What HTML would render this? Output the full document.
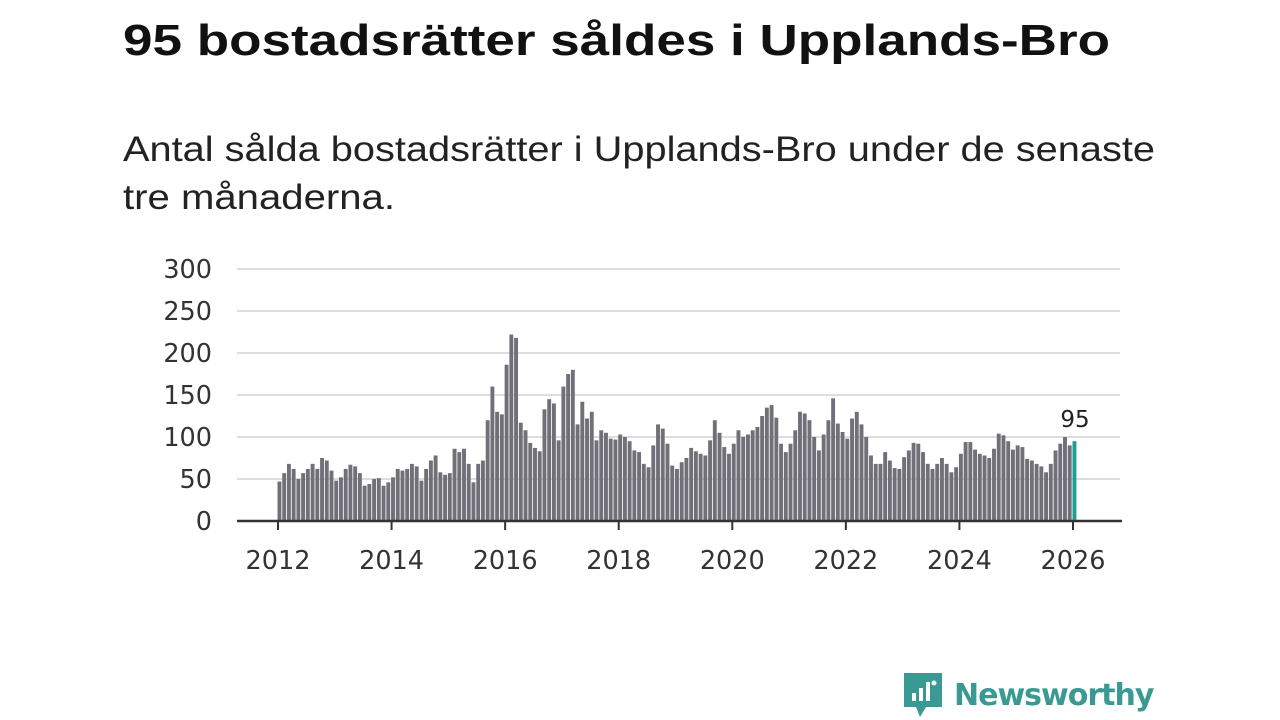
<!DOCTYPE html>
<html><head><meta charset="utf-8"><style>
body{margin:0;background:#fff;width:1280px;height:720px;overflow:hidden;font-family:"Liberation Sans",sans-serif}
#logo{position:absolute;left:902px;top:671px;display:flex;align-items:center}
</style></head><body>
<svg id="chart" width="1280" height="720" style="position:absolute;left:0;top:0">
<text x="123" y="55" font-size="44" font-weight="bold" fill="#111" font-family="Liberation Sans, sans-serif" textLength="987" lengthAdjust="spacingAndGlyphs">95 bostadsrätter såldes i Upplands-Bro</text>
<text x="123" y="161" font-size="35" fill="#222" font-family="Liberation Sans, sans-serif" textLength="1032" lengthAdjust="spacingAndGlyphs">Antal sålda bostadsrätter i Upplands-Bro under de senaste</text>
<text x="123" y="209" font-size="35" fill="#222" font-family="Liberation Sans, sans-serif" textLength="272" lengthAdjust="spacingAndGlyphs">tre månaderna.</text>
</svg>
<div id="logo">
<svg width="42" height="48"><path d="M2 2h38v34H24l-6 10-4-10H2z" fill="#3a9a93"/><rect x="10" y="22" width="4" height="8" fill="#fff"/><rect x="17" y="17" width="4" height="13" fill="#fff"/><rect x="24" y="11" width="4" height="19" fill="#fff"/><circle cx="32" cy="12" r="2.5" fill="#fff"/></svg>
<span style="font-size:30px;color:#3a9a93;font-weight:bold;margin-left:10px;font-family:'DejaVu Sans',sans-serif;letter-spacing:-1px">Newsworthy</span></div>
<script>
const values=[47,57,68,62,50,57,62,68,62,75,72,60,
48,52,62,67,65,57,42,44,50,51,42,46,
52,62,60,62,68,65,48,62,72,78,58,55,
57,86,82,86,68,46,68,72,120,160,130,127,
186,222,218,117,108,93,87,83,133,145,140,96,
160,175,180,115,142,122,130,96,108,105,98,97,
103,100,95,84,82,68,64,90,115,110,92,66,
62,70,75,87,83,80,78,96,120,105,88,80,
92,108,100,103,108,112,125,135,138,123,92,82,
92,108,130,128,120,100,84,103,120,146,116,106,
98,122,130,115,100,78,68,68,82,72,63,62,
76,84,93,92,82,68,62,68,75,68,58,64,
80,94,94,85,80,78,75,86,104,102,95,85,
90,88,74,72,68,65,58,68,84,92,100,90,
95];
const yTicks=[0,50,100,150,200,250,300];
const xTicks=[2012,2014,2016,2018,2020,2022,2024,2026];
const svg=document.getElementById('chart');const NS='http://www.w3.org/2000/svg';
const y=v=>521-v*252/300;
const x=i=>278+i*(1073-278)/168;
const xy=yr=>x((yr-2012)*12);
const F='DejaVu Sans, sans-serif';
function mk(t,a){const e=document.createElementNS(NS,t);for(const k in a)e.setAttribute(k,a[k]);svg.appendChild(e);return e;}
yTicks.forEach(v=>{
 if(v>0){const l=mk('line',{x1:237,x2:1120,y1:y(v),y2:y(v),stroke:'#ddd','stroke-width':2});
 
 }
 const t=mk('text',{x:212,y:y(v)+9,'text-anchor':'end','font-size':25.5,fill:'#333','font-family':F});t.textContent=v;
 
 
});
values.forEach((v,i)=>{
 const last=i===values.length-1;
 const r=mk('rect',{x:x(i)-0.5,y:y(v),width:3.9,height:521-y(v),fill:last?'#1a9e96':'#717079'});
 
 
});
const ax=mk('line',{x1:237,x2:1122,y1:521,y2:521,stroke:'#333','stroke-width':2.5});


xTicks.forEach(yr=>{
 const tk=mk('line',{x1:xy(yr),x2:xy(yr),y1:521,y2:530,stroke:'#333','stroke-width':2});
 
 
 const t=mk('text',{x:xy(yr),y:569,'text-anchor':'middle','font-size':25.5,fill:'#333','font-family':F});t.textContent=yr;
 
 
});
const lv=values[values.length-1];
const lab=mk('text',{x:x(values.length-1)+2,y:y(lv)-14,'text-anchor':'middle','font-size':23,fill:'#222','font-family':F});lab.textContent=lv;


</script>
</body></html>
